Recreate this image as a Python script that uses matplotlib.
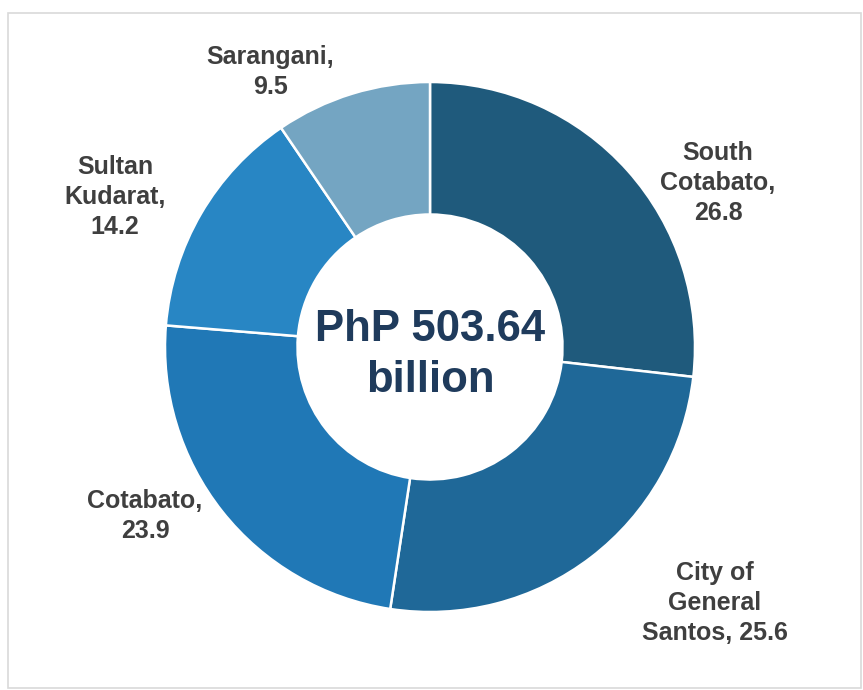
import matplotlib
matplotlib.use('Agg')
import matplotlib.pyplot as plt
import matplotlib.patches as mpatches
from matplotlib import rcParams

rcParams['font.family'] = ['Liberation Sans', 'DejaVu Sans']

# data
regions = ['South\nCotabato,', 'City of\nGeneral\nSantos,', 'Cotabato,', 'Sultan\nKudarat,', 'Sarangani,']
shares = [26.8, 25.6, 23.9, 14.2, 9.5]
colors = ['#1f5a7c', '#1f6898', '#2078b6', '#2886c4', '#74a5c2']
center_text = 'PhP 503.64\nbillion'

W, H = 863, 690
CX, CY, R = 430, 347, 265   # pixel centre / radius of donut

fig = plt.figure(figsize=(W / 100, H / 100), dpi=100)
ax = fig.add_axes([0, 0, 1, 1])
ax.axis('off')

wedges, _ = ax.pie(shares, colors=colors, startangle=90, counterclock=False,
                   radius=1.0, wedgeprops=dict(width=0.5, edgecolor='white', linewidth=1.8))
ax.set_aspect('auto')
ax.set_xlim(-CX / R, (W - CX) / R)
ax.set_ylim(-(H - CY) / R, CY / R)

# label placement (pixel centres as seen in the reference)
label_pos = [(718, 183), (715, 603), (145, 516), (115, 197), (270, 72)]
for name, val, (px, py) in zip(regions, shares, label_pos):
    if name.endswith('Santos,'):
        txt = name + ' ' + f'{val}'
    else:
        txt = name + '\n' + f'{val}'
    ax.text((px - CX) / R, (CY - py) / R, txt, ha='center', va='center',
            fontsize=18, fontweight='bold', color='#3f3f3f', linespacing=1.32)

ax.text(0, -0.03, center_text, ha='center', va='center', fontsize=31.5,
        fontweight='bold', color='#1f3b5c', linespacing=1.3)

# light frame around the chart
frame = mpatches.Rectangle((8 / W, 2 / H), 853 / W, 675 / H, transform=fig.transFigure,
                           fill=False, edgecolor='#d9d9d9', linewidth=1.2)
fig.patches.append(frame)

fig.savefig('out.png', dpi=100)
